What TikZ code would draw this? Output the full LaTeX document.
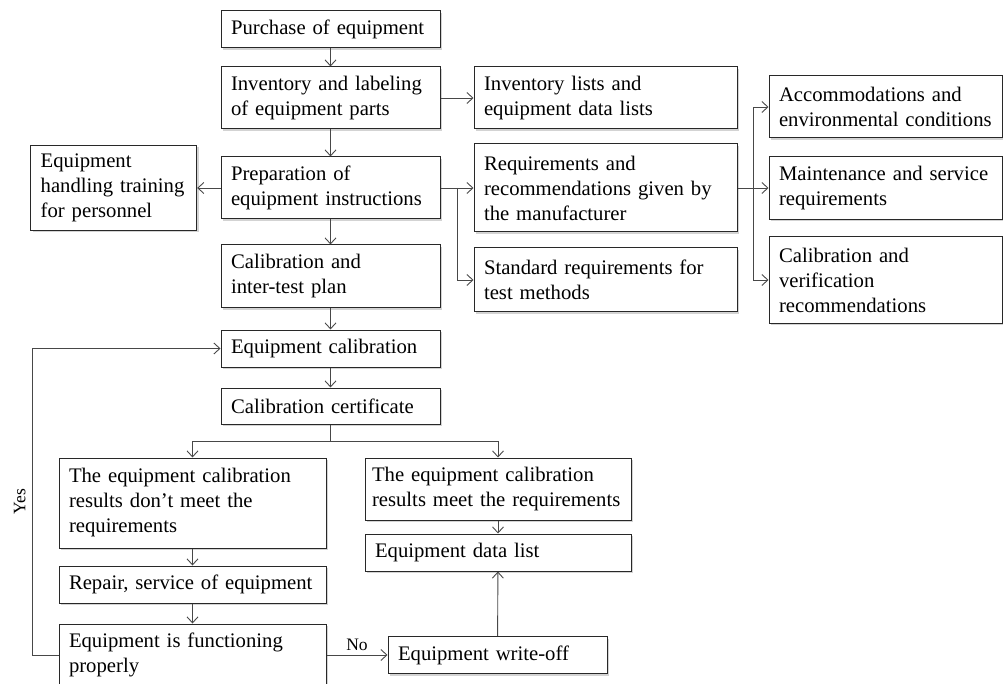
\documentclass[tikz,border=0pt]{standalone}
\usepackage{fontspec}
\setmainfont{Liberation Serif}
\usepackage{xcolor}
\definecolor{framegray}{RGB}{40, 40, 40}
\definecolor{linegray}{RGB}{72, 72, 72}
\usetikzlibrary{arrows.meta, shadows}

\newcommand{\boxfont}{\fontsize{20.7pt}{25pt}\selectfont}
\newcommand{\tagfont}{\fontsize{17.5pt}{20pt}\selectfont}

\tikzset{
  block/.style={draw=framegray, line width=1pt, fill=white, align=left,
    inner xsep=10pt, inner ysep=2pt, font=\boxfont,
    drop shadow={shadow xshift=2pt, shadow yshift=-2pt, opacity=0.35}},
  link/.style={draw=linegray, line width=0.9pt},
  tag/.style={font=\tagfont, inner sep=4pt}
}

\begin{document}
\begin{tikzpicture}[x=1pt, y=-1pt, >={Straight Barb[length=6pt, width=11pt]}]
    \useasboundingbox (0,0) rectangle (1003,684);

    % main column
    \node[block, text width=199pt, minimum height=37pt] (purchase) at (330.5,29.5) {Purchase of equipment};
    \node[block, text width=199pt, minimum height=62pt] (inventory) at (330.5,98) {Inventory and labeling\\of equipment parts};
    \node[block, text width=199pt, minimum height=62pt] (prep) at (330.5,188) {Preparation of\\equipment instructions};
    \node[block, text width=199pt, minimum height=63pt] (plan) at (330.5,276.5) {Calibration and\\inter-test plan};
    \node[block, text width=199pt, minimum height=37pt] (calib) at (330.5,348.5) {Equipment calibration};
    \node[block, text width=199pt, minimum height=36pt] (cert) at (330.5,406) {Calibration certificate};

    \node[block, text width=146pt, minimum height=85pt] (training) at (113.7,188) {Equipment\\handling training\\for personnel};

    % documents
    \node[block, text width=243pt, minimum height=62pt] (lists) at (605.5,98) {Inventory lists and\\equipment data lists};
    \node[block, text width=243pt, minimum height=88pt] (reqs) at (605.5,188) {Requirements and\\recommendations given by\\the manufacturer};
    \node[block, text width=243pt, minimum height=64pt] (standard) at (605.5,280) {Standard requirements for\\test methods};

    \node[block, text width=213pt, minimum height=62pt] (accom) at (885.5,107) {Accommodations and\\environmental conditions};
    \node[block, text width=213pt, minimum height=63pt] (maint) at (885.5,188) {Maintenance and service\\requirements};
    \node[block, text width=213pt, minimum height=86pt] (calver) at (885.5,280) {Calibration and\\verification\\recommendations};

    % results
    \node[block, text width=247pt, minimum height=90pt] (notmeet) at (192.5,503) {The equipment calibration\\results don’t meet the\\requirements};
    \node[block, text width=247pt, minimum height=37pt] (repair) at (192.5,584.5) {Repair, service of equipment};
    \node[block, text width=247pt, minimum height=62pt] (func) at (192.5,655) {Equipment is functioning\\properly};

    \node[block, inner xsep=7pt, text width=252pt, minimum height=62pt] (meet) at (498,489) {The equipment calibration\\results meet the requirements};
    \node[block, text width=246pt, minimum height=37pt] (datalist) at (498,552.5) {Equipment data list};
    \node[block, text width=199pt, minimum height=37pt] (writeoff) at (497.5,655) {Equipment write-off};

    \coordinate (rsplit) at (457,188);
    \coordinate (msplit) at (753,188);
    \coordinate (split) at (330.5,441);
    \coordinate (turn) at (32,655);

    \draw[link, ->] (purchase) -- (inventory);
    \draw[link, ->] (inventory) -- (prep);
    \draw[link, ->] (prep) -- (plan);
    \draw[link, ->] (plan) -- (calib);
    \draw[link, ->] (calib) -- (cert);

    \draw[link, ->] (inventory) -- (lists);
    \draw[link, ->] (prep) -- (training);
    \draw[link, ->] (prep) -- (reqs);
    \draw[link, ->] (rsplit) |- (standard.west);

    \draw[link, ->] (reqs) -- (maint);
    \draw[link, ->] (msplit) |- (accom.west);
    \draw[link, ->] (msplit) |- (calver.west);

    \draw[link] (cert) -- (split);
    \draw[link, ->] (split) -| (notmeet.north);
    \draw[link, ->] (split) -| (meet.north);

    \draw[link, ->] (notmeet) -- (repair);
    \draw[link, ->] (repair) -- (func);
    \draw[link, ->] (meet) -- (datalist);
    \draw[link, ->] (writeoff) -- (datalist);

    \draw[link, ->] (func) -- (writeoff) node[midway, above, tag] (no) {No};
    \draw[link, ->] (func.west) -- (turn) |- (calib.west) node[pos=0.25, rotate=90, above, tag, inner sep=6pt] (yes) {Yes};
\end{tikzpicture}
\end{document}
